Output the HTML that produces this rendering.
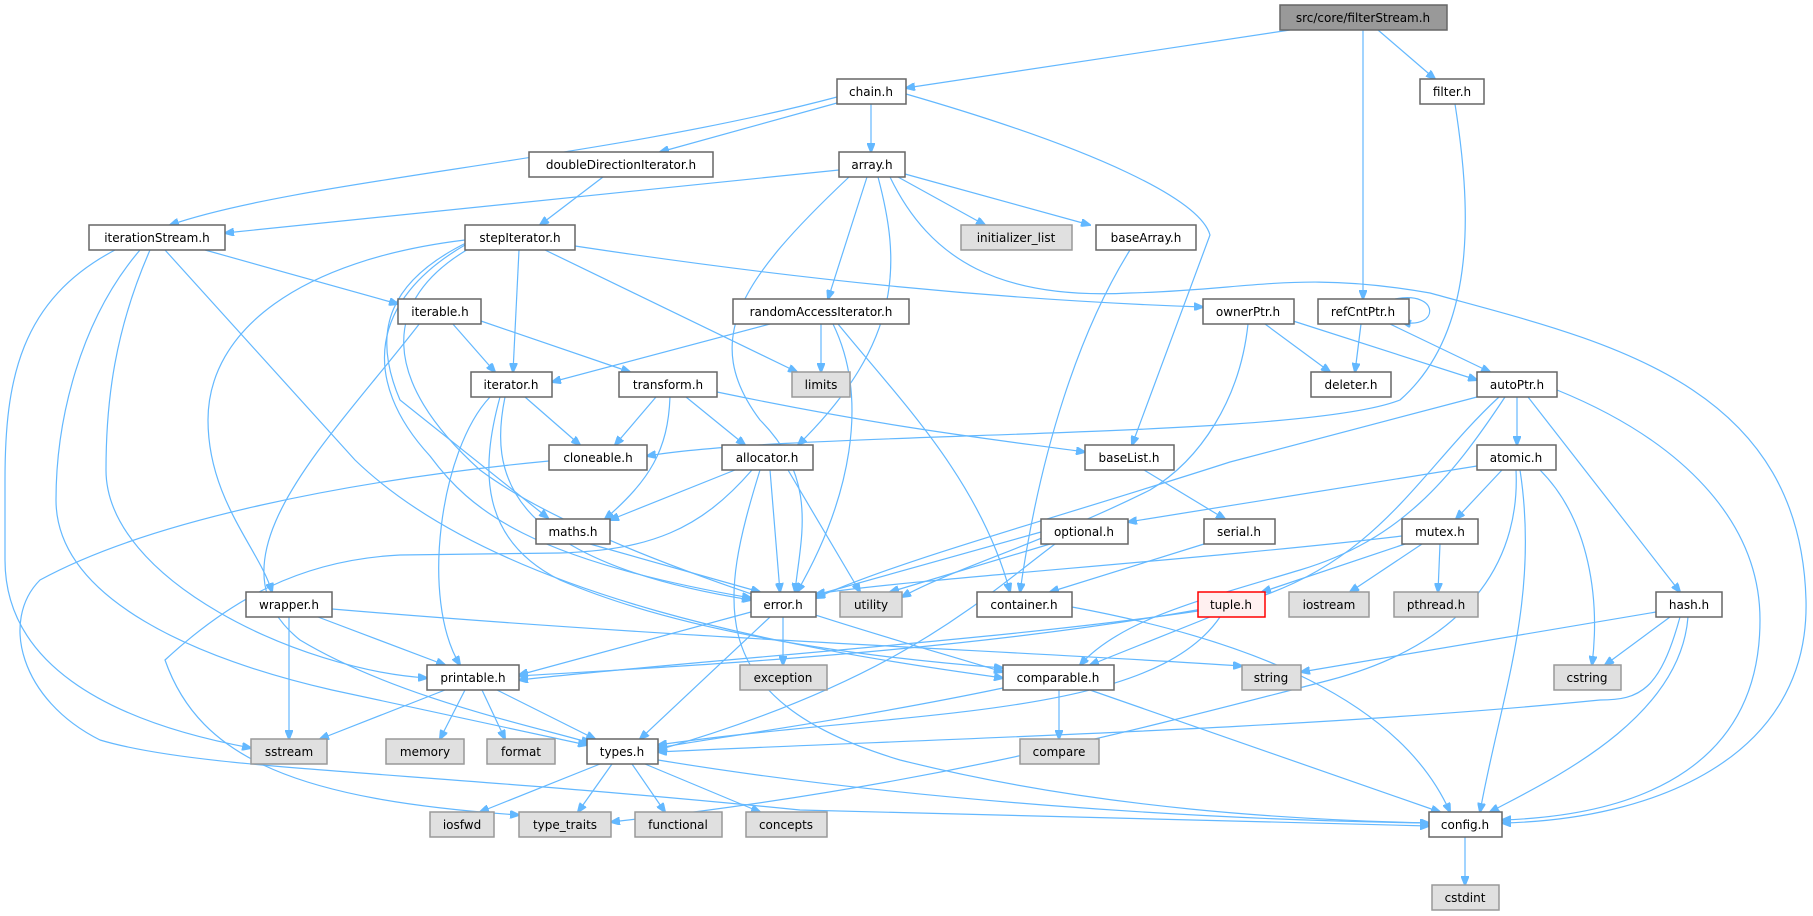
<!DOCTYPE html>
<html><head><meta charset="utf-8"><style>
html,body{margin:0;padding:0;background:#fff;}
svg{display:block;}
text{font-family:"DejaVu Sans","Liberation Sans",sans-serif;font-size:12px;fill:#000;text-anchor:middle;}
.n{fill:#fff;stroke:#666;stroke-width:1.5;}
.g{fill:#e0e0e0;stroke:#999;stroke-width:1.5;}
path{fill:none;stroke:#63b8ff;stroke-width:1.2;marker-end:url(#a);}
</style></head><body>
<svg width="1813" height="916" viewBox="0 0 1813 916">
<defs><marker id="a" markerWidth="10" markerHeight="8" refX="9" refY="4" orient="auto" markerUnits="userSpaceOnUse"><path d="M0,0 L10,4 L0,8 z" style="fill:#63b8ff;stroke:#63b8ff;marker-end:none"/></marker></defs>
<g>
<path d="M1290,30 L906,88"/>
<path d="M1378,30 L1435,79"/>
<path d="M1363,30 L1363,299"/>
<path d="M837,97 C600,160 300,180 170,225"/>
<path d="M837,103 L660,152"/>
<path d="M871,104 L871,152"/>
<path d="M906,94 C1100,150 1200,200 1210,235 L1132,445"/>
<path d="M1455,104 C1470,200 1480,330 1400,400 C1300,440 800,430 647,456"/>
<path d="M603,177 L540,225"/>
<path d="M839,170 L225,233"/>
<path d="M898,177 L985,225"/>
<path d="M905,174 L1090,225"/>
<path d="M867,177 L828,299"/>
<path d="M849,177 C740,280 700,340 760,420 C820,480 800,540 795,592"/>
<path d="M878,177 C900,260 905,340 798,445"/>
<path d="M890,177 C930,260 1000,300 1130,293 C1250,290 1300,270 1430,293 C1600,340 1800,380 1806,600 C1810,760 1650,820 1502,823"/>
<path d="M205,250 L398,304"/>
<path d="M115,250 C20,300 5,380 5,480 L5,560 C5,660 100,720 251,748"/>
<path d="M140,250 C80,320 56,420 56,500 C56,600 200,660 332,690 L587,745"/>
<path d="M150,250 C115,330 106,400 106,470 C106,580 300,670 427,678"/>
<path d="M165,250 L355,460 C500,600 800,650 1003,678"/>
<path d="M575,246 C800,280 1000,300 1203,307"/>
<path d="M545,250 L797,372"/>
<path d="M519,250 L513,372"/>
<path d="M465,240 C300,260 208,330 208,420 C208,500 260,550 272,592"/>
<path d="M468,242 C390,280 370,330 400,400 L548,518"/>
<path d="M465,245 C370,300 360,380 430,456 C470,510 530,560 751,598"/>
<path d="M470,248 C380,300 380,380 480,470 C600,560 900,640 1003,672"/>
<path d="M452,323 L495,372"/>
<path d="M478,320 L630,372"/>
<path d="M420,323 C330,440 200,560 300,640 C400,700 550,730 590,743"/>
<path d="M770,324 L552,382"/>
<path d="M821,324 L821,372"/>
<path d="M833,324 C870,400 850,500 797,592"/>
<path d="M838,324 C900,400 980,480 1010,592"/>
<path d="M525,397 L580,445"/>
<path d="M490,397 C440,450 420,600 460,665"/>
<path d="M505,397 C490,470 500,560 751,600"/>
<path d="M500,397 C480,470 480,540 560,580 C700,640 900,660 1003,668"/>
<path d="M656,397 L615,445"/>
<path d="M686,397 L745,445"/>
<path d="M670,397 C668,450 650,480 605,519"/>
<path d="M717,392 C900,430 1000,440 1085,452"/>
<path d="M1130,250 C1080,330 1040,450 1020,592"/>
<path d="M1265,324 L1330,372"/>
<path d="M1290,320 L1477,380"/>
<path d="M1248,324 C1240,400 1200,460 1150,490 C1050,540 950,570 902,597"/>
<path d="M1361,324 L1355,372"/>
<path d="M1390,324 L1490,372"/>
<path d="M1395,299 C1440,290 1440,330 1402,322"/>
<path d="M1517,397 L1517,445"/>
<path d="M1528,397 L1680,592"/>
<path d="M1557,390 C1680,440 1760,520 1760,620 C1760,760 1650,815 1502,820"/>
<path d="M1477,397 L1230,462 C1050,520 900,560 816,598"/>
<path d="M1499,397 C1420,470 1380,560 1250,600 C1000,650 700,665 519,676"/>
<path d="M1505,397 C1450,480 1400,540 1300,570 C1200,600 1120,620 1080,665"/>
<path d="M1477,466 L1128,522"/>
<path d="M1502,470 L1456,519"/>
<path d="M1520,470 C1540,600 1500,700 1480,812"/>
<path d="M1540,470 C1590,520 1600,600 1592,665"/>
<path d="M1516,470 C1520,550 1480,640 1330,680 C1100,740 900,790 611,822"/>
<path d="M735,470 L610,520"/>
<path d="M770,470 L780,592"/>
<path d="M788,470 L860,592"/>
<path d="M760,470 C720,600 700,700 900,760 C1100,810 1300,820 1429,823"/>
<path d="M752,470 C700,530 650,550 560,553 L400,555 C300,560 230,600 165,660 C200,760 300,800 519,815"/>
<path d="M549,461 C350,480 150,520 40,580 C0,620 20,700 100,740 C200,770 400,770 800,810 L1429,826"/>
<path d="M1144,470 L1225,519"/>
<path d="M590,544 L760,592"/>
<path d="M1041,532 L816,595"/>
<path d="M1050,544 L890,592"/>
<path d="M1055,544 C980,600 900,680 658,750"/>
<path d="M1204,544 L1050,592"/>
<path d="M1402,536 C1200,560 900,580 816,594"/>
<path d="M1405,544 L1262,592"/>
<path d="M1422,544 L1350,592"/>
<path d="M1440,544 L1438,592"/>
<path d="M318,617 L445,665"/>
<path d="M289,617 L289,739"/>
<path d="M332,609 C700,640 1000,650 1242,666"/>
<path d="M751,612 L519,675"/>
<path d="M783,617 L783,665"/>
<path d="M770,617 L640,739"/>
<path d="M1072,607 C1250,640 1400,700 1450,812"/>
<path d="M1198,611 C1000,640 700,660 519,680"/>
<path d="M1210,617 L1090,665"/>
<path d="M1220,617 C1150,720 900,710 658,745"/>
<path d="M1656,612 L1301,672"/>
<path d="M1670,617 L1605,665"/>
<path d="M1680,617 C1660,690 1640,700 1600,700 C1300,730 900,740 658,752"/>
<path d="M1688,617 C1680,720 1550,780 1490,812"/>
<path d="M445,690 L320,739"/>
<path d="M465,690 L440,739"/>
<path d="M482,690 L505,739"/>
<path d="M497,690 L595,739"/>
<path d="M1003,688 C850,720 700,740 658,748"/>
<path d="M1059,690 L1059,739"/>
<path d="M1090,690 L1440,812"/>
<path d="M600,764 L480,812"/>
<path d="M612,764 L578,812"/>
<path d="M632,764 L665,812"/>
<path d="M645,764 L760,812"/>
<path d="M658,760 C900,800 1200,820 1429,823"/>
<path d="M1465,837 L1465,885"/>
</g>
<g>
<rect x="1280" y="5" width="167" height="25" style="fill:#999;stroke:#666;stroke-width:1.5"/><text x="1363" y="22">src/core/filterStream.h</text>
<rect class="n" x="837" y="79" width="69" height="25"/><text x="871" y="96">chain.h</text>
<rect class="n" x="1420" y="79" width="64" height="25"/><text x="1452" y="96">filter.h</text>
<rect class="n" x="529" y="152" width="184" height="25"/><text x="621" y="169">doubleDirectionIterator.h</text>
<rect class="n" x="839" y="152" width="66" height="25"/><text x="872" y="169">array.h</text>
<rect class="n" x="89" y="225" width="136" height="25"/><text x="157" y="242">iterationStream.h</text>
<rect class="n" x="465" y="225" width="110" height="25"/><text x="520" y="242">stepIterator.h</text>
<rect class="g" x="961" y="225" width="111" height="25"/><text x="1016" y="242">initializer_list</text>
<rect class="n" x="1096" y="225" width="100" height="25"/><text x="1146" y="242">baseArray.h</text>
<rect class="n" x="398" y="299" width="83" height="25"/><text x="440" y="316">iterable.h</text>
<rect class="n" x="733" y="299" width="176" height="25"/><text x="821" y="316">randomAccessIterator.h</text>
<rect class="n" x="1203" y="299" width="91" height="25"/><text x="1248" y="316">ownerPtr.h</text>
<rect class="n" x="1318" y="299" width="91" height="25"/><text x="1363" y="316">refCntPtr.h</text>
<rect class="n" x="471" y="372" width="81" height="25"/><text x="511" y="389">iterator.h</text>
<rect class="n" x="619" y="372" width="98" height="25"/><text x="668" y="389">transform.h</text>
<rect class="g" x="792" y="372" width="58" height="25"/><text x="821" y="389">limits</text>
<rect class="n" x="1311" y="372" width="80" height="25"/><text x="1351" y="389">deleter.h</text>
<rect class="n" x="1477" y="372" width="80" height="25"/><text x="1517" y="389">autoPtr.h</text>
<rect class="n" x="549" y="445" width="98" height="25"/><text x="598" y="462">cloneable.h</text>
<rect class="n" x="722" y="445" width="91" height="25"/><text x="767" y="462">allocator.h</text>
<rect class="n" x="1085" y="445" width="89" height="25"/><text x="1129" y="462">baseList.h</text>
<rect class="n" x="1477" y="445" width="79" height="25"/><text x="1516" y="462">atomic.h</text>
<rect class="n" x="536" y="519" width="74" height="25"/><text x="573" y="536">maths.h</text>
<rect class="n" x="1041" y="519" width="87" height="25"/><text x="1084" y="536">optional.h</text>
<rect class="n" x="1204" y="519" width="71" height="25"/><text x="1239" y="536">serial.h</text>
<rect class="n" x="1402" y="519" width="76" height="25"/><text x="1440" y="536">mutex.h</text>
<rect class="n" x="246" y="592" width="86" height="25"/><text x="289" y="609">wrapper.h</text>
<rect class="n" x="751" y="592" width="65" height="25"/><text x="783" y="609">error.h</text>
<rect class="g" x="840" y="592" width="62" height="25"/><text x="871" y="609">utility</text>
<rect class="n" x="977" y="592" width="95" height="25"/><text x="1024" y="609">container.h</text>
<rect x="1198" y="592" width="67" height="25" style="fill:#fff0f0;stroke:#f00;stroke-width:1.5"/><text x="1231" y="609">tuple.h</text>
<rect class="g" x="1289" y="592" width="80" height="25"/><text x="1329" y="609">iostream</text>
<rect class="g" x="1394" y="592" width="84" height="25"/><text x="1436" y="609">pthread.h</text>
<rect class="n" x="1656" y="592" width="66" height="25"/><text x="1689" y="609">hash.h</text>
<rect class="n" x="427" y="665" width="92" height="25"/><text x="473" y="682">printable.h</text>
<rect class="g" x="740" y="665" width="87" height="25"/><text x="783" y="682">exception</text>
<rect class="n" x="1003" y="665" width="111" height="25"/><text x="1058" y="682">comparable.h</text>
<rect class="g" x="1242" y="665" width="59" height="25"/><text x="1271" y="682">string</text>
<rect class="g" x="1554" y="665" width="67" height="25"/><text x="1587" y="682">cstring</text>
<rect class="g" x="251" y="739" width="76" height="25"/><text x="289" y="756">sstream</text>
<rect class="g" x="386" y="739" width="78" height="25"/><text x="425" y="756">memory</text>
<rect class="g" x="487" y="739" width="68" height="25"/><text x="521" y="756">format</text>
<rect class="n" x="587" y="739" width="71" height="25"/><text x="622" y="756">types.h</text>
<rect class="g" x="1020" y="739" width="79" height="25"/><text x="1059" y="756">compare</text>
<rect class="g" x="430" y="812" width="64" height="25"/><text x="462" y="829">iosfwd</text>
<rect class="g" x="519" y="812" width="92" height="25"/><text x="565" y="829">type_traits</text>
<rect class="g" x="635" y="812" width="87" height="25"/><text x="678" y="829">functional</text>
<rect class="g" x="746" y="812" width="81" height="25"/><text x="786" y="829">concepts</text>
<rect class="n" x="1429" y="812" width="73" height="25"/><text x="1465" y="829">config.h</text>
<rect class="g" x="1432" y="885" width="67" height="25"/><text x="1465" y="902">cstdint</text>
</g>
</svg>
</body></html>
